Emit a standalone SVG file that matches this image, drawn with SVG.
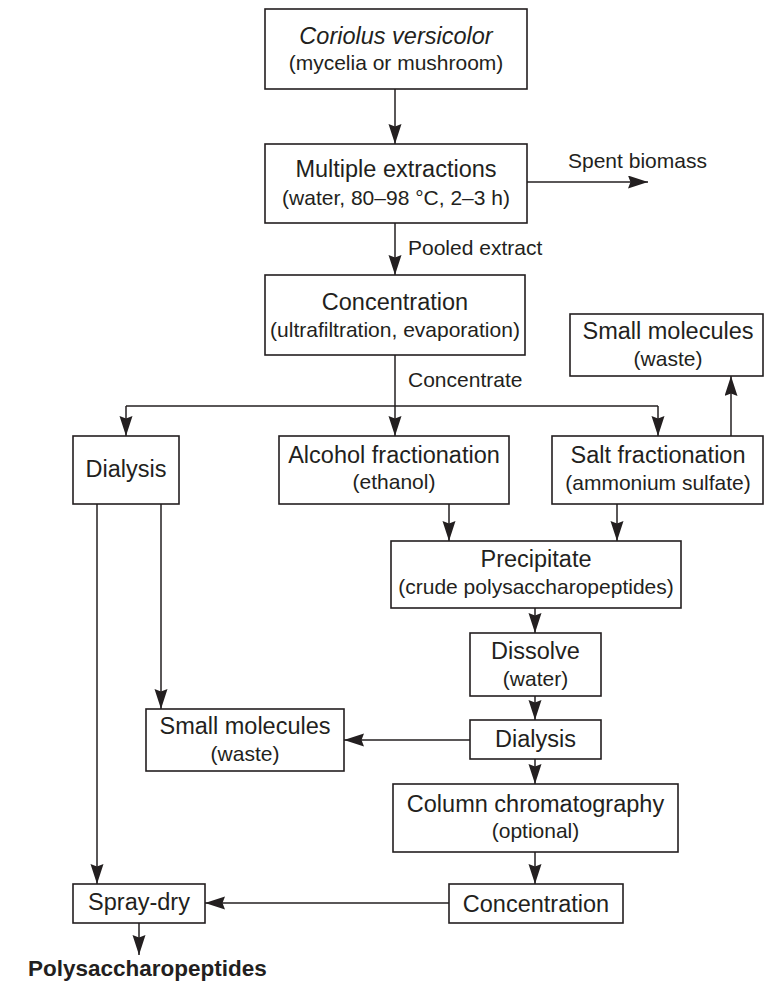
<svg xmlns="http://www.w3.org/2000/svg" width="764" height="984" viewBox="0 0 764 984">
<style>
  .box { fill: #fff; stroke: #231f20; stroke-width: 1.6; }
  .main { font-family: "Liberation Sans", Arial, Helvetica, sans-serif; font-size: 23.5px; fill: #231f20; text-anchor: middle; }
  .sub { font-family: "Liberation Sans", Arial, Helvetica, sans-serif; font-size: 21px; fill: #231f20; text-anchor: middle; }
  .lbl { font-family: "Liberation Sans", Arial, Helvetica, sans-serif; font-size: 21px; fill: #231f20; }
  .it { font-style: italic; }
  .bold { font-family: "Liberation Sans", Arial, Helvetica, sans-serif; font-size: 22.5px; font-weight: bold; fill: #231f20; }
  .ln { fill: none; stroke: #231f20; stroke-width: 1.5; }
  .arr { fill: none; stroke: #231f20; stroke-width: 1.5; marker-end: url(#ah); }
</style>
<defs>
  <marker id="ah" markerUnits="userSpaceOnUse" markerWidth="22" markerHeight="14" refX="20" refY="6.5" orient="auto">
    <path d="M0,0 L20,6.5 L0,13 L2.5,6.5 Z" fill="#231f20"/>
  </marker>
</defs>
<rect width="764" height="984" fill="#fff"/>

<g id="connectors">
  <line class="arr" x1="395" y1="89" x2="395" y2="144"/>
  <line class="arr" x1="527" y1="182" x2="648" y2="182"/>
  <line class="arr" x1="395" y1="223" x2="395" y2="275"/>
  <line class="ln" x1="395" y1="355" x2="395" y2="406"/>
  <line class="ln" x1="126" y1="406" x2="658" y2="406"/>
  <line class="arr" x1="126" y1="406" x2="126" y2="436"/>
  <line class="arr" x1="395" y1="406" x2="395" y2="436"/>
  <line class="arr" x1="658" y1="406" x2="658" y2="436"/>
  <line class="arr" x1="731" y1="436" x2="731" y2="376"/>
  <line class="arr" x1="449" y1="504" x2="449" y2="541"/>
  <line class="arr" x1="617" y1="504" x2="617" y2="541"/>
  <line class="arr" x1="535" y1="608" x2="535" y2="633"/>
  <line class="arr" x1="535" y1="696" x2="535" y2="720"/>
  <line class="arr" x1="470" y1="740" x2="344" y2="740"/>
  <line class="arr" x1="535" y1="759" x2="535" y2="784"/>
  <line class="arr" x1="535" y1="852" x2="535" y2="884"/>
  <line class="arr" x1="449" y1="903" x2="205" y2="903"/>
  <line class="arr" x1="97" y1="504" x2="97" y2="884"/>
  <line class="arr" x1="161" y1="504" x2="161" y2="709"/>
  <line class="arr" x1="139" y1="923" x2="139" y2="955"/>
  <text class="lbl" x="568" y="168">Spent biomass</text>
  <text class="lbl" x="408" y="255">Pooled extract</text>
  <text class="lbl" x="408" y="387">Concentrate</text>
</g>

<g id="coriolus">
  <rect class="box" x="265" y="9" width="262" height="80"/>
  <text class="main it" x="396" y="44">Coriolus versicolor</text>
  <text class="sub" x="396" y="70">(mycelia or mushroom)</text>
</g>
<g id="extractions">
  <rect class="box" x="265" y="144" width="262" height="79"/>
  <text class="main" x="396" y="177">Multiple extractions</text>
  <text class="sub" x="396" y="205">(water, 80–98 °C, 2–3 h)</text>
</g>
<g id="concentration1">
  <rect class="box" x="265" y="275" width="260" height="80"/>
  <text class="main" x="395" y="310">Concentration</text>
  <text class="sub" x="395" y="337">(ultrafiltration, evaporation)</text>
</g>
<g id="small-molecules1">
  <rect class="box" x="570" y="314" width="193" height="62"/>
  <text class="main" x="668" y="339">Small molecules</text>
  <text class="sub" x="668" y="366">(waste)</text>
</g>
<g id="dialysis1">
  <rect class="box" x="73" y="436" width="106" height="68"/>
  <text class="main" x="126" y="477">Dialysis</text>
</g>
<g id="alcohol">
  <rect class="box" x="279" y="436" width="230" height="68"/>
  <text class="main" x="394" y="463">Alcohol fractionation</text>
  <text class="sub" x="394" y="489">(ethanol)</text>
</g>
<g id="salt">
  <rect class="box" x="552" y="436" width="211" height="68"/>
  <text class="main" x="658" y="463">Salt fractionation</text>
  <text class="sub" x="658" y="490">(ammonium sulfate)</text>
</g>
<g id="precipitate">
  <rect class="box" x="391" y="541" width="290" height="67"/>
  <text class="main" x="536" y="567">Precipitate</text>
  <text class="sub" x="536" y="594">(crude polysaccharopeptides)</text>
</g>
<g id="dissolve">
  <rect class="box" x="470" y="633" width="131" height="63"/>
  <text class="main" x="535.5" y="659">Dissolve</text>
  <text class="sub" x="535.5" y="686">(water)</text>
</g>
<g id="dialysis2">
  <rect class="box" x="470" y="720" width="131" height="39"/>
  <text class="main" x="535.5" y="747">Dialysis</text>
</g>
<g id="small-molecules2">
  <rect class="box" x="146" y="709" width="198" height="62"/>
  <text class="main" x="245" y="734">Small molecules</text>
  <text class="sub" x="245" y="761">(waste)</text>
</g>
<g id="column">
  <rect class="box" x="393" y="784" width="285" height="68"/>
  <text class="main" x="535.5" y="812">Column chromatography</text>
  <text class="sub" x="535.5" y="838">(optional)</text>
</g>
<g id="concentration2">
  <rect class="box" x="449" y="884" width="174" height="39"/>
  <text class="main" x="536" y="912">Concentration</text>
</g>
<g id="spray-dry">
  <rect class="box" x="73" y="884" width="132" height="39"/>
  <text class="main" x="139" y="910">Spray-dry</text>
</g>
<g id="product">
  <text class="bold" x="28" y="976">Polysaccharopeptides</text>
</g>
</svg>
